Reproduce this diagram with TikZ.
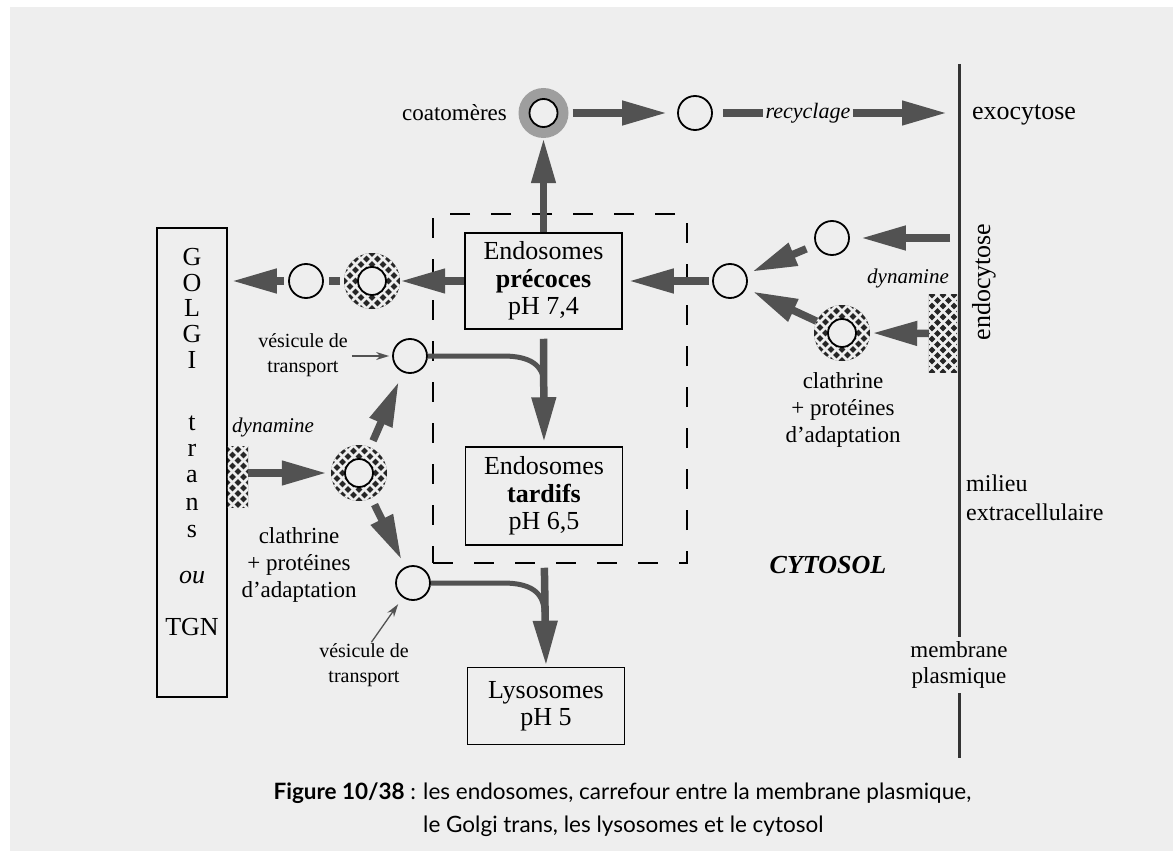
\documentclass[tikz,border=0pt]{standalone}
\usepackage{fontspec}
\setmainfont{Liberation Serif}
\newfontfamily\capfont{Lato}
\usetikzlibrary{arrows.meta}
\definecolor{bg}{RGB}{238,238,238}
\definecolor{ag}{RGB}{82,82,82}
\definecolor{coatgray}{RGB}{158,158,158}
\newcommand\weavefill{%
  \fill[black!85] (-70,-70) rectangle (70,70);
  \foreach \k in {-121,-110,...,121}{%
    \draw[bg,line width=2.8pt] (\k-60,-60) -- (\k+60,60);
    \draw[bg,line width=2.8pt] (\k-60,60) -- (\k+60,-60);
  }}
\newcommand\clring[2]{%
  \node[circle,minimum size=56pt,inner sep=0pt] (#1) at (#2) {};
  \begin{scope}[shift={(#2)}]
    \clip (0,0) circle (28pt);
    \weavefill
  \end{scope}
  \node[ves,minimum size=28pt] (#1in) at (#2) {};}
\newcommand\dynrect[4]{% name, center, width, height
  \node[inner sep=0pt,minimum width=#3,minimum height=#4] (#1) at (#2) {};
  \begin{scope}
    \clip (#1.south west) rectangle (#1.north east);
    \begin{scope}[shift={(#2)}]\weavefill\end{scope}
  \end{scope}}
\begin{document}
\begin{tikzpicture}[x=1pt,y=-1pt,
  mainf/.style={font=\fontsize{26}{27.5}\selectfont},
  midf/.style={font=\fontsize{23}{27}\selectfont},
  smallf/.style={font=\fontsize{20}{25}\selectfont},
  ebox/.style={draw,line width=1.5pt,align=center,inner sep=0pt,mainf,minimum width=157pt},
  ves/.style={circle,draw,line width=1.8pt,minimum size=34pt,inner sep=0pt,fill=bg},
  fat/.style={draw=ag,line width=7.5pt,-{Triangle[length=45pt,width=23pt]}},
  bar/.style={draw=ag,line width=7.5pt},
  curve/.style={draw=ag,line width=5pt},
  thinarr/.style={draw=ag,line width=1.3pt,-{Stealth[length=13pt,width=8pt]}},
  lab/.style={inner sep=1pt,align=center},
  capt/.style={font=\capfont\fontsize{22.5}{26}\selectfont,inner sep=0pt}]
\useasboundingbox (0,0) rectangle (1173,851);
\fill[white] (0,0) rectangle (1173,851);
\fill[bg] (10,7) rectangle (1173,851);

% membrane
\node[font=\fontsize{23}{26}\selectfont,align=center,inner sep=0pt] (memb) at (959,665) {membrane\\plasmique};
\coordinate (mtop) at (959,64);
\coordinate (mbot) at (959,758);
\draw[line width=3pt,black!80] (mtop) -- (memb.north |- 0,637);
\draw[line width=3pt,black!80] (memb.south |- 0,693) -- (mbot);

% dashed box
\node[draw,line width=1.8pt,dash pattern=on 20pt off 21pt,minimum width=254pt,minimum height=349pt,inner sep=0pt] (dbox) at (560,388.5) {};

% endosome boxes
\node[ebox,minimum height=96pt] (pre) at (543.5,281) {Endosomes\\\textbf{précoces}\\pH 7,4};
\node[ebox,minimum height=98pt] (tar) at (544,496) {Endosomes\\\textbf{tardifs}\\pH 6,5};
\node[ebox,minimum height=77pt] (lys) at (546,706) {Lysosomes\\pH 5};

% Golgi
\node[draw,line width=1.5pt,minimum width=70pt,minimum height=469pt,inner sep=0pt] (golgi) at (192,462.5) {};
\foreach \t/\yy [count=\i] in {G/257,O/283,L/308,G/334,I/360,t/423,r/450,a/477,n/504,s/531}
  \node[mainf,inner sep=0pt] (gl\i) at (192,\yy) {\t};
\node[mainf,inner sep=0pt] (gou) at (192,578) {\textit{ou}};
\node[mainf,inner sep=0pt] (gtgn) at (192,627) {TGN};

% top: coatomeres and recycling
\node[circle,fill=coatgray,minimum size=50pt,inner sep=0pt] (coat) at (543.5,113) {};
\node[ves,minimum size=28pt] (coatin) at (coat) {};
\node[midf,anchor=east,inner sep=0pt] (coatl) at (507,113) {coatomères};
\node[ves] (c2) at (695,113) {};
\node[font=\fontsize{22}{24}\selectfont\itshape,inner sep=2pt] (rec) at (808,113) {recyclage};
\coordinate (exo) at (947,113);
\node[mainf,inner sep=0pt] (exol) at (1024,115) {exocytose};
\draw[fat] (pre.north) -- (coat.south);
\draw[fat,shorten <=4pt,shorten >=10pt] (coat.east) -- (c2.west);
\draw[bar,shorten <=10pt] (c2.east) -- (rec.west);
\draw[fat] (rec.east) -- (exo);

% endocytosis side
\node[mainf,rotate=90,inner sep=0pt] (endol) at (984,282) {endocytose};
\node[ves] (v4) at (730,281) {};
\node[ves] (v5) at (832,238) {};
\coordinate (mA) at (950,238);
\clring{cl2}{842,333}
\dynrect{dynR}{943,333.5}{28pt}{77pt}
\node[font=\fontsize{21}{24}\selectfont\itshape,inner sep=0pt] (dynRl) at (908,278) {dynamine};
\node[midf,lab] (clR) at (843,410) {clathrine\\+ protéines\\d'adaptation};
\draw[fat,shorten >=11pt] (mA) -- (v5.east);
\draw[fat,shorten <=10pt,shorten >=6pt] (v5) -- (v4);
\draw[fat,shorten >=7pt] (cl2) -- (v4);
\draw[fat,shorten >=2pt] (dynR.west) -- (cl2.east);
\draw[fat,shorten <=3pt,shorten >=6pt] (v4.west) -- (pre.east);

% Golgi direction
\clring{cl1}{372,281}
\node[ves] (v3) at (306,281) {};
\draw[fat] (pre.west) -- (cl1.east);
\draw[bar,shorten <=4pt,shorten >=5pt] (cl1.west) -- (v3.east);
\draw[fat,shorten <=4pt,shorten >=4pt] (v3.west) -- (golgi.east |- v3.west);

% Golgi to endosomes
\dynrect{dynL}{238,477}{20pt}{60pt}
\node[font=\fontsize{21}{24}\selectfont\itshape,inner sep=0pt] (dynLl) at (273,427) {dynamine};
\clring{cl3}{359,473}
\node[ves] (v1) at (410,356) {};
\node[ves] (v2) at (413,583) {};
\node[midf,lab] (clL) at (299,565) {clathrine\\+ protéines\\d'adaptation};
\node[smallf,lab] (vt1) at (303,355) {vésicule de\\transport};
\node[smallf,lab] (vt2) at (364,665) {vésicule de\\transport};
\draw[fat,shorten >=4pt] (dynL.east |- cl3) -- (cl3.west);
\draw[fat,shorten <=7pt,shorten >=10pt] (cl3) -- (v1);
\draw[fat,shorten <=7pt,shorten >=8pt] (cl3) -- (v2);
\draw[thinarr,shorten <=3pt,shorten >=3pt] (vt1.east |- v1) -- (v1.west);
\draw[thinarr,shorten >=8pt] (vt2.72) -- (v2);

% endosome flow
\coordinate (j1) at (544,385);
\coordinate (j2) at (544,612);
\draw[fat,shorten <=9pt,shorten >=4pt] (pre.south) -- (tar.north);
\draw[curve] (v1.east) -- (503,356) .. controls (530,356) and (544,365) .. (j1);
\draw[fat,shorten <=22pt,shorten >=1pt] (tar.south) -- (lys.north);
\draw[curve] (v2.east) -- (503,583) .. controls (530,583) and (544,592) .. (j2);

% other labels
\node[font=\fontsize{26}{28}\selectfont\bfseries\itshape,inner sep=0pt] (cyto) at (828,565) {CYTOSOL};
\node[font=\fontsize{24}{29}\selectfont,anchor=north west,align=left,inner sep=0pt] (milieu) at (966,475) {milieu\\extracellulaire};

% caption
\node[capt,anchor=base west] (capA) at (423,799) {les endosomes, carrefour entre la membrane plasmique,};
\node[capt,anchor=base east] (capF) at (capA.base west) {\textbf{Figure 10/38}\kern0.25em:\kern0.3em};
\node[capt,anchor=base west] (capB) at (423,832) {le Golgi trans, les lysosomes et le cytosol};
\end{tikzpicture}
\end{document}
